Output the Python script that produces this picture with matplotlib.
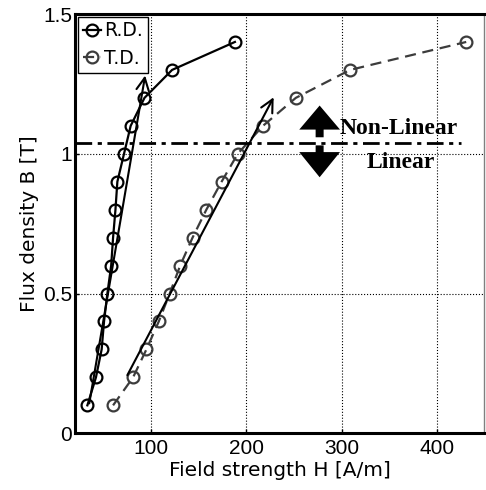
import matplotlib
matplotlib.use("Agg")
import matplotlib.pyplot as plt

# Measured B-H points (field strength H [A/m], flux density B [T])
rd_h = [33, 42, 48, 50.5, 54, 58, 60, 62.5, 64.5, 71.5, 78.5, 93, 122, 188]
rd_b = [0.1, 0.2, 0.3, 0.4, 0.5, 0.6, 0.7, 0.8, 0.9, 1.0, 1.1, 1.2, 1.3, 1.4]
td_h = [60, 81, 95, 108, 119.5, 130.5, 143.5, 158, 174, 191, 217.5, 252, 309, 431]
td_b = [0.1, 0.2, 0.3, 0.4, 0.5, 0.6, 0.7, 0.8, 0.9, 1.0, 1.1, 1.2, 1.3, 1.4]

# Linear-fit arrows (start, end)
rd_fit_h = [35, 93.7]
rd_fit_b = [0.107, 1.28]
td_fit_h = [75, 228.7]
td_fit_b = [0.208, 1.202]

# Boundary between linear and non-linear regions
limit_b = 1.039
limit_h = [20, 426]

xticks = [100, 200, 300, 400]
yticks = [0, 0.5, 1, 1.5]

plt.rcParams["font.family"] = ["Liberation Sans", "DejaVu Sans"]

fig = plt.figure(figsize=(4.86, 4.90), dpi=100)
ax = fig.add_axes([75 / 486, 1 - 433.3 / 490, (484.3 - 75) / 486, (433.3 - 14) / 490])

mk = dict(marker="o", markersize=8.5, markerfacecolor="none", markeredgewidth=1.6)
ax.plot(rd_h, rd_b, color="black", linewidth=1.6, label="R.D.", **mk)
ax.plot(td_h, td_b, color="#3c3c3c", linewidth=1.6, linestyle=(0, (5, 3)),
        label="T.D.", **mk)

for fh, fb in ((rd_fit_h, rd_fit_b), (td_fit_h, td_fit_b)):
    ax.annotate("", xy=(fh[1], fb[1]), xytext=(fh[0], fb[0]),
                arrowprops=dict(arrowstyle="->,head_length=0.9,head_width=0.45",
                                color="black", lw=1.5, shrinkA=0, shrinkB=0))

ax.plot(limit_h, [limit_b, limit_b], color="black", linewidth=2,
        linestyle=(0, (6, 2, 1.5, 2)))

# Big up / down arrows
ax.arrow(277, 1.059, 0, 0.1135, width=8.4, head_width=42.8, head_length=0.086,
         length_includes_head=True, color="black", linewidth=0)
ax.arrow(277, 1.030, 0, -0.114, width=8.4, head_width=42.8, head_length=0.09,
         length_includes_head=True, color="black", linewidth=0)
ax.text(297.5, 1.09, "Non-Linear", family="Liberation Serif", fontweight="bold",
        fontsize=17, va="center", ha="left")
ax.text(326, 0.969, "Linear", family="Liberation Serif", fontweight="bold",
        fontsize=17, va="center", ha="left")

ax.set_xlim(20, 450)
ax.set_ylim(0, 1.5)
ax.set_xticks(xticks)
ax.set_yticks(yticks)
ax.set_yticklabels(["0", "0.5", "1", "1.5"])
ax.tick_params(labelsize=15, direction="in", length=3, width=1)
ax.tick_params(axis="y", pad=2)
ax.tick_params(axis="x", pad=4)
ax.grid(True, linestyle=":", color="black", linewidth=0.8)

for side in ("left", "bottom", "top"):
    ax.spines[side].set_linewidth(2.2)
ax.spines["right"].set_linewidth(1)
ax.spines["right"].set_color("#808080")

ax.set_xlabel("Field strength H [A/m]", fontsize=14.5, family="DejaVu Sans", labelpad=2)
ax.set_ylabel("Flux density B [T]", fontsize=14.5, family="DejaVu Sans", labelpad=3)

leg = ax.legend(loc="upper left", prop={"family": "DejaVu Sans", "size": 13.5},
                handlelength=1.0, handletextpad=0.15, borderpad=0.25,
                labelspacing=0.45, borderaxespad=0.15,
                fancybox=False, framealpha=1, edgecolor="black")
leg.get_frame().set_linewidth(1)

fig.savefig("out.png", dpi=100)
